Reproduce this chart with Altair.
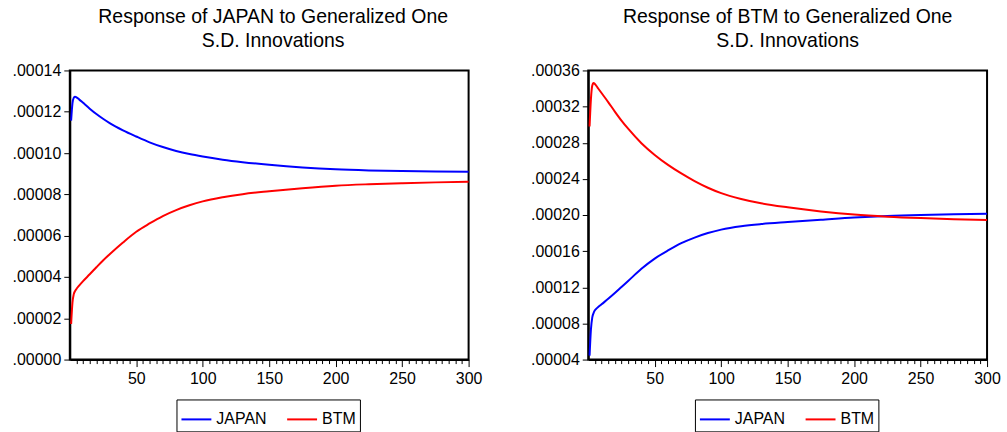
import altair as alt
import pandas as pd

# Forecast horizon (periods) at which the impulse responses are recorded
periods = [1, 2, 3, 4, 5, 7, 10, 15, 20, 25, 30, 40, 50, 60, 70, 80, 90, 100,
           115, 130, 150, 175, 200, 225, 250, 275, 300]

# Response of JAPAN to generalized one S.D. innovations (units of 1e-5)
japan_to_japan = [11.57, 12.40, 12.68, 12.73, 12.70, 12.60, 12.43, 12.15,
                  11.89, 11.66, 11.45, 11.10, 10.80, 10.52, 10.29, 10.10,
                  9.95, 9.83, 9.68, 9.56, 9.43, 9.30, 9.21, 9.16, 9.13,
                  9.11, 9.09]
japan_to_btm = [1.72, 2.75, 3.17, 3.32, 3.42, 3.58, 3.80, 4.13, 4.47, 4.80,
                5.10, 5.67, 6.19, 6.59, 6.95, 7.24, 7.47, 7.66, 7.86, 8.01,
                8.15, 8.30, 8.42, 8.49, 8.54, 8.58, 8.61]

# Response of BTM to generalized one S.D. innovations (units of 1e-5)
btm_to_japan = [4.44, 7.30, 8.65, 9.15, 9.45, 9.75, 10.12, 10.72, 11.36,
                12.03, 12.70, 14.05, 15.18, 16.08, 16.88, 17.50, 18.00,
                18.38, 18.76, 19.00, 19.22, 19.47, 19.72, 19.90, 20.01,
                20.08, 20.14]
btm_to_btm = [29.80, 32.80, 34.30, 34.60, 34.50, 34.10, 33.50, 32.50, 31.45,
              30.45, 29.55, 27.95, 26.65, 25.55, 24.60, 23.75, 23.02, 22.42,
              21.78, 21.30, 20.85, 20.40, 20.05, 19.82, 19.66, 19.54, 19.45]

SCALE = 1e-5

series_names = ["JAPAN", "BTM"]
series_colors = ["#0000FF", "#FF0000"]

left_ticks = [0.0, 0.00002, 0.00004, 0.00006, 0.00008, 0.00010, 0.00012, 0.00014]
right_ticks = [0.00004, 0.00008, 0.00012, 0.00016, 0.00020, 0.00024,
               0.00028, 0.00032, 0.00036]
x_ticks = list(range(5, 301, 5))

FONT = "Liberation Sans"


def long_frame(japan, btm):
    rows = []
    for name, vals in (("JAPAN", japan), ("BTM", btm)):
        for p, v in zip(periods, vals):
            rows.append({"period": p, "series": name, "value": v * SCALE})
    return pd.DataFrame(rows)


def panel(df, title, ticks, title_dx):
    return alt.Chart(df).mark_line(strokeWidth=2, interpolate="monotone").encode(
        x=alt.X(
            "period:Q",
            scale=alt.Scale(domain=[0, 300], nice=False, zero=False),
            axis=alt.Axis(
                title=None,
                values=x_ticks,
                labelExpr="datum.value % 50 == 0 ? datum.value : ''",
                tickSize={"condition": {"test": "datum.value % 50 == 0", "value": 7}, "value": 4},
                labelPadding=4,
                labelFlush=False,
                grid=False,
            ),
        ),
        y=alt.Y(
            "value:Q",
            scale=alt.Scale(domain=[ticks[0], ticks[-1]], nice=False, zero=False),
            axis=alt.Axis(
                title=None,
                values=ticks,
                labelExpr="substring(format(datum.value, '.5f'), 1)",
                tickSize=6,
                labelPadding=3,
                grid=False,
            ),
        ),
        color=alt.Color(
            "series:N",
            sort=series_names,
            scale=alt.Scale(domain=series_names, range=series_colors),
            legend=alt.Legend(
                title=None,
                orient="none",
                legendX=107,
                legendY=330,
                direction="horizontal",
                symbolType="stroke",
                symbolSize=900,
                symbolStrokeWidth=2,
                labelFontSize=16,
                labelFont=FONT,
                labelColor="black",
                strokeColor="black",
                padding=4,
                columnPadding=16,
            ),
        ),
    ).properties(
        width=400,
        height=290,
        title=alt.TitleParams(text=title, anchor="middle", fontSize=19.5,
                              font=FONT, fontWeight="normal", color="black",
                              lineHeight=24, offset=11, dx=title_dx),
    )


left = panel(long_frame(japan_to_japan, japan_to_btm),
             ["Response of JAPAN to Generalized One", "S.D. Innovations"],
             left_ticks, 4)
right = panel(long_frame(btm_to_japan, btm_to_btm),
              ["Response of BTM to Generalized One", "S.D. Innovations"],
              right_ticks, 0)

chart = alt.hconcat(left, right, spacing=46).resolve_scale(
    color="independent"
).properties(
    padding={"left": 11, "top": 5, "right": 5, "bottom": 2},
    background="white",
).configure_view(
    stroke="black", strokeWidth=2
).configure_axis(
    labelFont=FONT,
    labelFontSize=16,
    labelColor="black",
    domainColor="black",
    domainWidth=2,
    tickColor="black",
    tickWidth=1,
)

chart.save("out.html", embed_options={"renderer": "svg", "actions": False})
